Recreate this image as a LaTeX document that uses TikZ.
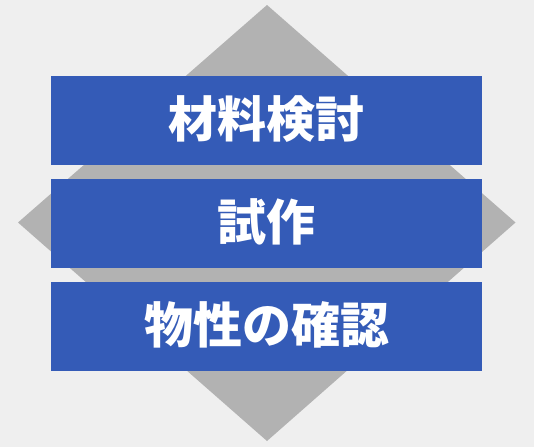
\documentclass[tikz,border=0pt]{standalone}
\usepackage{fontspec}
\newfontfamily\jpfont{Noto Sans CJK JP}
\definecolor{pagegray}{RGB}{239,239,239}
\definecolor{diamondgray}{RGB}{178,178,178}
\definecolor{stageblue}{RGB}{52,91,183}
\tikzset{stage/.style={fill=stageblue,draw=none,inner sep=0pt,
  minimum width=431pt,minimum height=89pt,text=white,
  text height=36pt,text depth=2pt,
  font=\jpfont\bfseries\fontsize{49pt}{49pt}\selectfont}}

\begin{document}
\begin{tikzpicture}[x=1pt,y=-1pt]
          \fill[pagegray] (0,0) rectangle (534,447);
          \useasboundingbox (0,0) rectangle (534,447);

          % diamond behind the stages
          \fill[diamondgray] (267,5) -- (515.5,222.5) -- (267,441) -- (18,222.5) -- cycle;

          \node[stage] (material) at (266.5,120.5) {材料検討};
          \node[stage] (trial) at (266.5,223) {試作};
          \node[stage] (property) at (266.5,326) {物性の確認};
        \end{tikzpicture}
\end{document}
